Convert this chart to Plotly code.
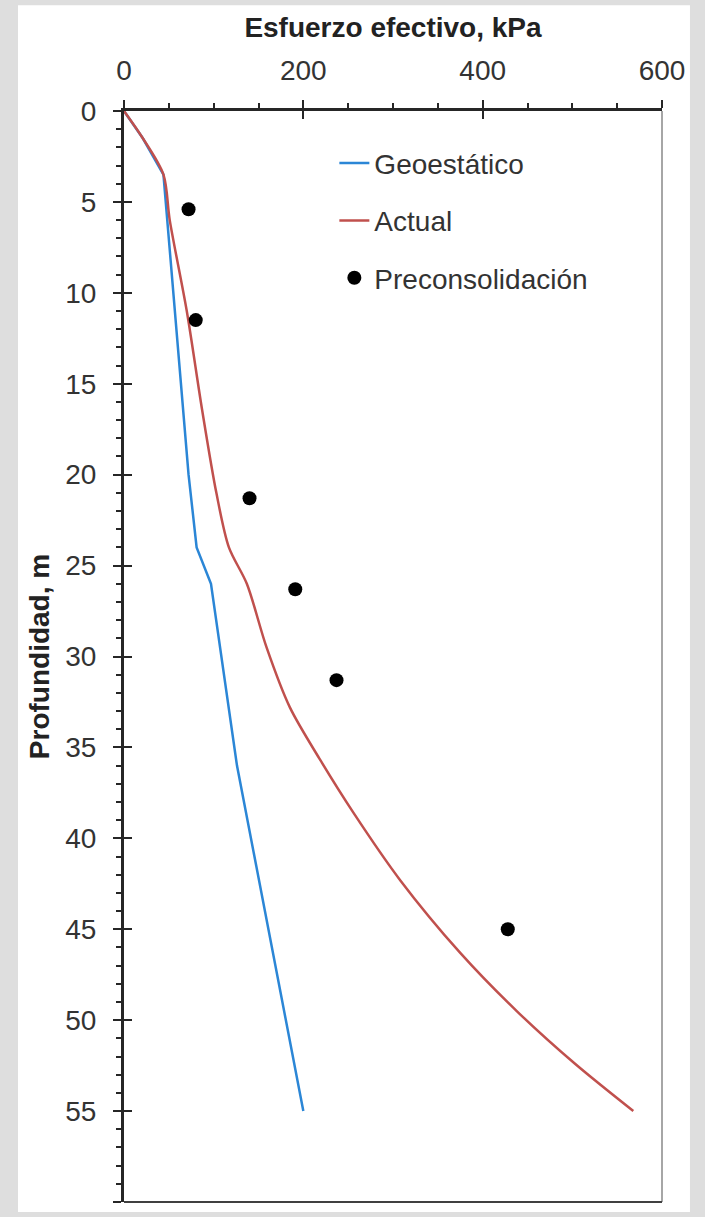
import plotly.graph_objects as go

# Data
geo_depth = [0, 1.5, 3.5, 8, 14, 20, 24, 26, 36, 55]
geo_stress = [0, 21, 44, 51.5, 62, 72, 81, 97, 126, 200]

act_depth = [0, 1.5, 3.5, 6, 11, 16.4, 21, 24, 26, 29.5, 32.8, 35.7, 38.6, 42.3, 46.3, 49.5, 52.4, 55]
act_stress = [0, 21, 44, 51, 70, 87, 103, 117, 137, 159, 185, 219, 256, 308, 375, 438, 503, 568]

pre_depth = [5.4, 11.5, 21.3, 26.3, 31.3, 45.0]
pre_stress = [72, 80, 140, 191, 237, 428]

x_ticks = [0, 200, 400, 600]
y_ticks = [0, 5, 10, 15, 20, 25, 30, 35, 40, 45, 50, 55, 60]

FONT = "Liberation Sans, Arial, sans-serif"
AXC = "#262626"

fig = go.Figure()
fig.add_trace(go.Scatter(x=geo_stress, y=geo_depth, mode="lines", name="Geoestático",
                         line=dict(color="#2b86d6", width=2.5), legendgroup="g1"))
fig.add_trace(go.Scatter(x=act_stress, y=act_depth, mode="lines", name="Actual",
                         line=dict(color="#c0504d", width=2.5, shape="spline", smoothing=0.85),
                         legendgroup="g2"))
fig.add_trace(go.Scatter(x=pre_stress, y=pre_depth, mode="markers", name="Preconsolidación",
                         marker=dict(color="black", size=14), legendgroup="g3"))
# invisible trace for overlay axes (inside half of the crossing ticks)
fig.add_trace(go.Scatter(x=[0], y=[0], xaxis="x2", yaxis="y2", mode="markers",
                         marker=dict(opacity=0), showlegend=False, hoverinfo="skip"))

fig.update_layout(
    width=705, height=1217,
    margin=dict(l=124, r=43, t=111, b=15),
    paper_bgcolor="#dedede",
    plot_bgcolor="white",
    font=dict(family=FONT, size=28, color="#333333"),
    showlegend=True,
    legend=dict(x=0.391, y=0.975, xanchor="left", yanchor="top",
                bgcolor="rgba(0,0,0,0)", font=dict(size=28, color="#333333"),
                tracegroupgap=18, itemwidth=30),
    xaxis=dict(side="top", range=[0, 600], tickvals=x_ticks, ticks="outside", ticklen=8,
               tickwidth=2, tickcolor=AXC, showline=True, linecolor=AXC, linewidth=3,
               showgrid=False, zeroline=False, ticklabelstandoff=9,
               minor=dict(dtick=50, ticks="outside", ticklen=5, tickwidth=2, tickcolor=AXC, showgrid=False),
               title=dict(text="<b>Esfuerzo efectivo, kPa</b>", font=dict(size=28, color="#222222"), standoff=9)),
    yaxis=dict(range=[60, 0], tickvals=y_ticks, ticks="outside", ticklen=8,
               tickwidth=2, tickcolor=AXC, showline=True, linecolor=AXC, linewidth=3,
               showgrid=False, zeroline=False, ticklabelstandoff=11,
               minor=dict(dtick=1, ticks="outside", ticklen=5, tickwidth=2, tickcolor=AXC, showgrid=False),
               title=dict(text="<b>Profundidad, m</b>", font=dict(size=28, color="#222222"), standoff=8)),
    xaxis2=dict(overlaying="x", side="top", range=[0, 600], tickvals=x_ticks, ticks="inside",
                ticklen=8, tickwidth=2, tickcolor=AXC, showticklabels=False, showline=False,
                showgrid=False, zeroline=False),
    yaxis2=dict(overlaying="y", side="left", range=[60, 0], tickvals=y_ticks, ticks="inside",
                ticklen=8, tickwidth=2, tickcolor=AXC, showticklabels=False, showline=False,
                showgrid=False, zeroline=False),
    shapes=[
        dict(type="rect", xref="paper", yref="paper", x0=-0.197, x1=1.052, y0=-0.00917, y1=1.097,
             fillcolor="white", line=dict(width=0), layer="below"),
        dict(type="line", xref="paper", yref="paper", x0=1, x1=1, y0=0, y1=1,
             line=dict(color="#a6a6a6", width=2)),
        dict(type="line", xref="paper", yref="paper", x0=0, x1=1, y0=0, y1=0,
             line=dict(color="#404040", width=2)),
    ],
)

fig.write_html("out.html")
